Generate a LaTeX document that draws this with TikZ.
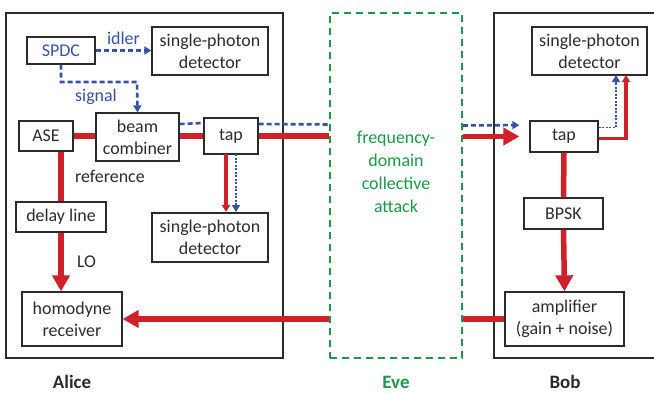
\documentclass[tikz,border=0pt]{standalone}
\usepackage{fontspec}
\setmainfont{Carlito}
\usetikzlibrary{arrows.meta,positioning,calc}
\definecolor{qred}{HTML}{D0202A}
\definecolor{qblue}{HTML}{3553A6}
\definecolor{qgreen}{HTML}{1A9948}
\definecolor{qgray}{HTML}{2B2B2B}

\begin{document}
\begin{tikzpicture}[x=1bp,y=-1bp]
  % Definir estilos
  \tikzstyle{blk}=[rectangle, draw=qgray, line width=1.3bp, text=qgray, align=center, inner sep=0pt, font=\fontsize{18}{22}\selectfont]
  \tikzstyle{party}=[draw=qgray, line width=1.8bp]
  \tikzstyle{beam}=[qred, line width=5.5bp]
  \tikzstyle{thinbeam}=[qred, line width=3.5bp]
  \tikzstyle{bigtip}=[-{Triangle[length=16bp,width=17bp]}]
  \tikzstyle{smalltip}=[-{Triangle[length=7bp,width=8bp]}]
  \tikzstyle{quant}=[qblue, line width=2.6bp, dash pattern=on 5bp off 3bp]
  \tikzstyle{quantdot}=[qblue, line width=1.5bp, dash pattern=on 2bp off 1.5bp]
  \tikzstyle{lbl}=[font=\fontsize{18}{22}\selectfont, text=qgray]
  \tikzstyle{who}=[font=\bfseries\fontsize{19}{22}\selectfont, text=qgray]

  \useasboundingbox (0,0) rectangle (654,392);

  % Cajas de Alice, Eve y Bob
  \draw[party] (6,13) rectangle (283,358);
  \node[draw=qgreen, line width=1.8bp, dash pattern=on 7bp off 5bp, minimum width=132bp, minimum height=345bp, inner sep=0pt] (eve) at (396,185.5) {};
  \draw[party] (654,13) -- (494,13) -- (494,358) -- (654,358);

  % Nodos de Alice
  \node[blk, text=qblue, minimum width=68bp, minimum height=27bp] (spdc) at (61,50.5) {SPDC};
  \node[blk, minimum width=116bp, minimum height=48bp] (detidler) at (210,51) {single-photon\\detector};
  \node[blk, minimum width=54bp, minimum height=30bp] (ase) at (46,136) {ASE};
  \node[blk, minimum width=83bp, minimum height=48bp] (comb) at (137.5,137) {beam\\combiner};
  \node[blk, minimum width=54bp, minimum height=36bp] (tapa) at (231,136) {tap};
  \node[blk, minimum width=90bp, minimum height=30bp] (delay) at (61,217) {delay line};
  \node[blk, minimum width=116bp, minimum height=49bp] (detmon) at (210,237.5) {single-photon\\detector};
  \node[blk, minimum width=100bp, minimum height=54bp] (homo) at (72,319) {homodyne\\receiver};

  % Nodos de Bob
  \node[blk, minimum width=115bp, minimum height=48bp] (detbob) at (589.5,51) {single-photon\\detector};
  \node[blk, minimum width=68bp, minimum height=31bp] (tapb) at (564,136.5) {tap};
  \node[blk, minimum width=79bp, minimum height=31bp] (bpsk) at (563.5,213.5) {BPSK};
  \node[blk, minimum width=119bp, minimum height=54bp] (amp) at (564.5,319) {amplifier\\(gain + noise)};

  % Eve
  \node[align=center, text=qgreen, font=\fontsize{18}{23}\selectfont] (evetext) at (396,172) {frequency-\\domain\\collective\\attack};

  % Fotones (SPDC)
  \draw[quant, smalltip] (spdc.east) -- (detidler.west |- spdc.east) node[midway, above=1bp, text=qblue, font=\fontsize{18}{22}\selectfont] {idler};
  \draw[quant, smalltip] (spdc.south) |- (137,82) -- (comb.north);
  \node[text=qblue, font=\fontsize{18}{22}\selectfont] (sig) at (96,97) {signal};
  \draw[quant] ($(comb.east)+(0,-13)$) -- ($(tapa.west)+(0,-13)$);
  \draw[quant] ($(tapa.east)+(0,-12)$) -- ($(eve.west)+(0,-61)$);
  \draw[quant, smalltip, shorten >=10bp] ($(eve.east)+(0,-60)$) -- ($(tapb.west)+(0,-11.5)$);

  % Haz clasico de Alice
  \draw[beam] (ase.east) -- (ase.east -| comb.west);
  \draw[beam] (comb.east |- tapa.west) -- (tapa.west);
  \draw[beam] (tapa.east) -- (eve.west |- tapa.east);
  \draw[beam] (ase.south -| delay.north) -- (delay.north) node[midway, right=8bp, lbl] {reference};
  \draw[beam, bigtip] (delay.south) -- (delay.south |- homo.north) node[midway, right=10bp, lbl] {LO};
  \draw[thinbeam, smalltip] (226,154) -- (226,212);
  \draw[quantdot, smalltip] (236,154) -- (236,212);

  % Canal hacia Bob y vuelta
  \draw[beam, bigtip, shorten >=10bp] (eve.east |- tapb.west) -- (tapb.west);
  \draw[beam] (amp.west) -- (eve.east |- amp.west);
  \draw[beam, bigtip] (eve.west |- homo.east) -- (homo.east);

  % Haz de Bob
  \coordinate (redup) at (626,75);
  \coordinate (blueup) at (616,75);
  \draw[beam] (tapb.south) -- (bpsk.north);
  \draw[beam, bigtip] (bpsk.south) -- (amp.north);
  \draw[thinbeam, smalltip] ($(tapb.east)+(0,2)$) -| (redup);
  \draw[quantdot, smalltip] ($(tapb.east)+(0,-9)$) -| (blueup);

  % Etiquetas
  \node[who] (alice) at (72,382) {Alice};
  \node[who, text=qgreen] (evelbl) at (396,382) {Eve};
  \node[who] (bob) at (565,382) {Bob};
\end{tikzpicture}
\end{document}
